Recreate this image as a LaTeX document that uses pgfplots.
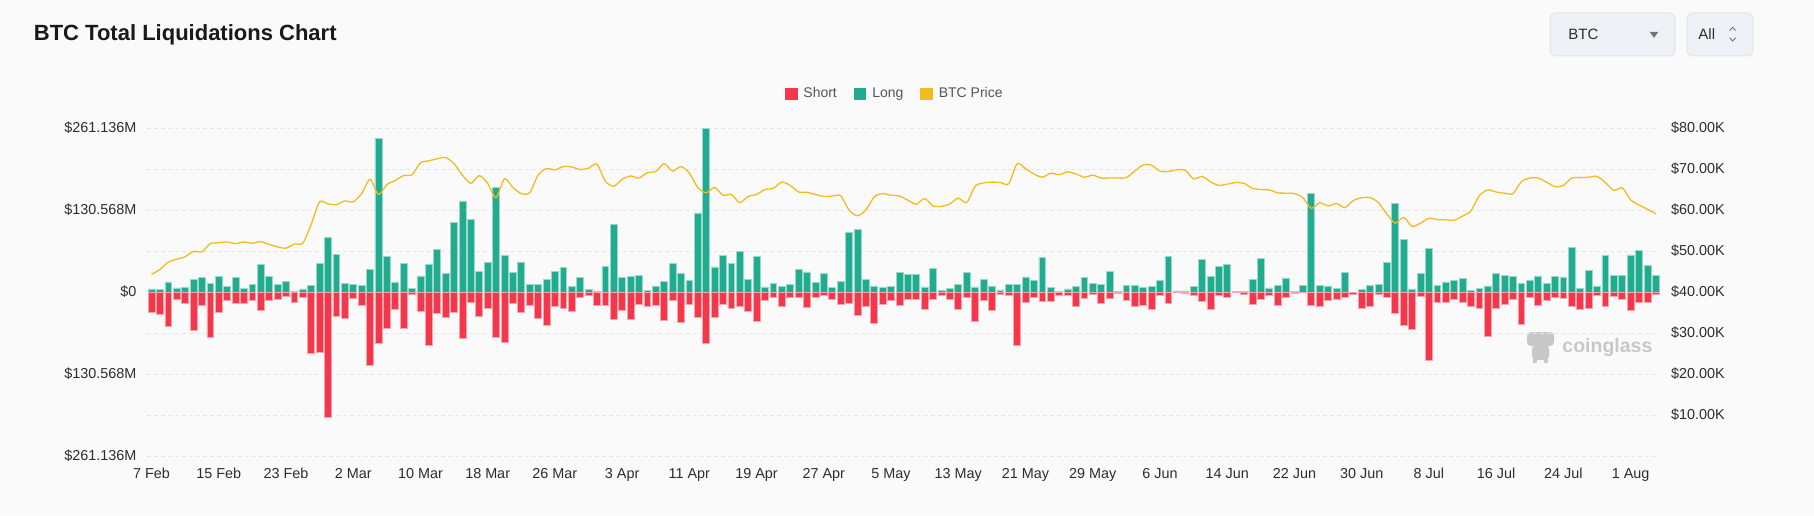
\documentclass[border=0pt]{standalone}
\usepackage{pgfplots}
\pgfplotsset{compat=1.18}
\usepackage{pgfplotstable}
\usepackage{fontspec}
\setmainfont{Liberation Sans}
\definecolor{shortc}{RGB}{245,55,76}
\definecolor{longc}{RGB}{33,171,143}
\definecolor{pricec}{RGB}{242,188,30}
\definecolor{gridc}{RGB}{230,230,230}
\definecolor{bgc}{RGB}{250,250,250}
\definecolor{textc}{RGB}{45,45,45}
\definecolor{legc}{RGB}{85,85,85}
\definecolor{wmc}{RGB}{200,200,200}
\definecolor{btnf}{RGB}{238,242,247}
\definecolor{btnd}{RGB}{224,229,236}

\pgfplotstableread{
d long short price
0 4.8 33 44.3
1 3.7 35 45.5
2 16 54 47.3
3 6.4 12 48.0
4 7 17.5 48.6
5 20.7 61 49.9
6 23 22 49.8
7 13 72 51.8
8 25 33 52.0
9 8.5 13 52.2
10 23 17.5 51.8
11 5.3 17.5 52.2
12 11.7 14 51.9
13 44 30 52.3
14 25 14 51.6
15 11.7 12 51.0
16 17 7 50.7
17 1.6 17 51.7
18 4.8 9 51.9
19 11 98 56.5
20 45 95.5 62.0
21 87.6 199 61.5
22 60.5 39 61.3
23 14 42 62.2
24 11.7 9.5 62.0
25 10 22 64.0
26 36.6 117 67.5
27 245 81 63.8
28 57 58 66.2
29 16 28 67.2
30 46 58 68.4
31 5.8 4 68.6
32 25.5 31 71.5
33 43.5 85 72.0
34 68 34.5 72.5
35 30 41 72.8
36 111 33 71.3
37 145 74 68.5
38 116 16.5 66.5
39 33 39 68.4
40 47 26 66.5
41 167 72 63.0
42 58 80 67.6
43 31 18.6 65.5
44 48 33 64.0
45 12.7 22 64.2
46 12.7 42 68.5
47 19.6 53 70.1
48 33 23 69.8
49 39 26.5 70.6
50 8.5 31 70.5
51 23 9 69.9
52 4.2 6 70.2
53 1.6 22 71.2
54 41 22 67.0
55 108 44 65.8
56 23 29 67.5
57 25 44 68.3
58 27 20 67.8
59 3 23 69.1
60 9.6 22 69.4
61 17.5 45 71.3
62 46 12.7 69.5
63 30 48 70.6
64 18 20 69.0
65 126 41 65.5
66 261 81 64.2
67 40 40 65.5
68 58 20 63.6
69 45 26.5 63.8
70 65 23 61.8
71 19.6 31 63.3
72 57 46 63.8
73 8 13 65.0
74 13 8.5 65.3
75 8.5 23 66.8
76 11.7 8 66.0
77 35.6 8 64.4
78 32 24 64.3
79 15 8 63.8
80 29 6 63.3
81 7 11.7 63.4
82 17.5 20 63.5
83 95 18.6 60.0
84 100 36.6 58.6
85 19.6 23 60.0
86 9.6 50 63.2
87 7 19.6 64.0
88 9 13 63.6
89 31 22 63.4
90 27.6 11.7 62.4
91 27.6 11.7 61.4
92 8 27.6 62.8
93 37.7 11.7 61.0
94 2.7 5.3 60.9
95 5.3 11 61.5
96 11.7 27.6 62.9
97 30.8 8 61.8
98 8 46 65.8
99 20.7 13.8 66.6
100 9 30 66.8
101 3.2 4.2 66.7
102 12.2 5.8 66.4
103 12.2 85 71.3
104 24 16 70.1
105 18 9 68.8
106 54.7 15.4 68.0
107 7.4 14.3 69.0
108 1 4.8 68.6
109 4.8 5.3 69.3
110 8.5 23 68.8
111 22.8 10 68.0
112 13.8 4.2 68.5
113 12.2 18 67.8
114 33.4 9.5 67.8
115 0.5 1.5 67.8
116 10 13.8 67.9
117 10 23 69.5
118 7 22 71.0
119 8.5 27.6 70.9
120 18 5.3 69.5
121 56 18.6 69.4
122 1.6 1 69.8
123 1.6 2.7 69.7
124 9 5.8 67.6
125 52.5 14.3 68.2
126 25 27 66.9
127 40.9 5.8 66.0
128 43.5 8.5 66.3
129 1 1 66.7
130 1 3.7 66.5
131 19.6 19.6 65.3
132 53.6 11.7 65.0
133 6.4 5.8 64.9
134 11 22 64.2
135 22.3 8.5 64.1
136 1 1.5 64.0
137 11 0.5 63.0
138 156.6 20.7 60.4
139 11 22.8 61.8
140 9.6 13.8 61.0
141 5.3 11 61.6
142 31.8 8 60.6
143 0 4.2 62.3
144 3.7 25.5 63.0
145 10.6 22.8 63.0
146 12.7 4.2 61.8
147 46.7 8.5 59.0
148 141.7 34 56.8
149 83.3 53 58.2
150 4.8 59 56.0
151 29 7.4 56.8
152 70 108.8 58.0
153 11 16.5 57.7
154 16 16.5 57.6
155 19 11.7 57.5
156 21.8 16 58.5
157 2.1 22.3 59.8
158 5.8 26.5 63.5
159 9.6 70.6 64.9
160 29 26 64.4
161 27 19.6 64.1
162 25 11 64.0
163 13 51 66.9
164 18.6 8 67.8
165 25.5 20.7 67.8
166 13.8 13 66.8
167 25 8.5 65.7
168 24 9.5 66.0
169 70.6 22.3 67.8
170 5.3 27.6 67.9
171 34 26.5 68.0
172 9.6 5.3 68.2
173 58.4 22.3 66.7
174 27 7.4 64.8
175 27 11 65.4
176 59 30 62.5
177 66 16.5 61.2
178 42 16.5 60.2
179 27 3.7 59.1
}\liq

\begin{document}
\begin{tikzpicture}
\path[use as bounding box] (0,0) rectangle (907pt,257.5pt);
\fill[bgc] (0,0) rectangle (907pt,257.5pt);
% title
\node[anchor=west,inner sep=0pt,text=black!90,font=\bfseries\fontsize{11}{13}\selectfont] at (16.75pt,240pt) {BTC Total Liquidations Chart};
% selector buttons
\draw[btnd,fill=btnf,rounded corners=3pt,line width=0.5pt] (775pt,229.5pt) rectangle (837.5pt,251pt);
\node[anchor=west,inner sep=0pt,text=textc,font=\fontsize{7.5}{9}\selectfont] at (784pt,240.25pt) {BTC};
\fill[black!55] (824.8pt,241.6pt) -- (829.2pt,241.6pt) -- (827pt,238.6pt) -- cycle;
\draw[btnd,fill=btnf,rounded corners=3pt,line width=0.5pt] (843.5pt,229.5pt) rectangle (876.5pt,251pt);
\node[anchor=west,inner sep=0pt,text=textc,font=\fontsize{7.5}{9}\selectfont] at (849pt,240.25pt) {All};
\draw[black!55,line width=0.45pt] (864.8pt,242.2pt) -- (866.3pt,243.8pt) -- (867.8pt,242.2pt);
\draw[black!55,line width=0.45pt] (864.8pt,238.6pt) -- (866.3pt,237pt) -- (867.8pt,238.6pt);
% watermark
\fill[wmc,rounded corners=2pt] (763.5pt,84.5pt) rectangle (777pt,91.5pt);
\fill[wmc,rounded corners=2pt] (766pt,77.5pt) rectangle (774.5pt,85pt);
\fill[wmc] (766.5pt,75.8pt) rectangle (768.5pt,78pt);
\fill[wmc] (772pt,75.8pt) rectangle (774pt,78pt);
\node[anchor=west,inner sep=0pt,text=wmc,font=\bfseries\fontsize{9.75}{11}\selectfont] at (781pt,83.9pt) {coinglass};

\begin{axis}[
  at={(73.65pt,29.5pt)}, anchor=south west,
  scale only axis, width=756.35pt, height=164pt,
  xmin=-0.5, xmax=179.5,
  ymin=-261.136, ymax=261.136,
  axis line style={draw=none},
  major tick length=0pt,
  ytick={-261.136,-195.852,-130.568,-65.284,0,65.284,130.568,195.852,261.136},
  yticklabels={\$261.136M,,\$130.568M,,\$0,,\$130.568M,,\$261.136M},
  ymajorgrids,
  grid style={gridc,dash pattern=on 2pt off 1.5pt,line width=0.5pt},
  xtick={0,8,...,176},
  xticklabels={7 Feb,15 Feb,23 Feb,2 Mar,10 Mar,18 Mar,26 Mar,3 Apr,11 Apr,19 Apr,27 Apr,5 May,13 May,21 May,29 May,6 Jun,14 Jun,22 Jun,30 Jun,8 Jul,16 Jul,24 Jul,1 Aug},
  tick label style={font=\fontsize{7.2}{8.5}\selectfont,text=textc},
  yticklabel style={anchor=east,inner sep=0pt,xshift=-5.2pt},
  xticklabel style={anchor=base,inner sep=0pt,yshift=-11pt},
  /pgf/number format/assume math mode=true,
  legend style={at={(0.4935,1.104)},anchor=center,draw=none,fill=none,
    legend columns=-1,font=\fontsize{7}{8}\selectfont,text=legc,
    inner sep=0pt,nodes={inner sep=0pt},
    /tikz/every odd column/.append style={column sep=3pt},
    /tikz/every even column/.append style={column sep=8.5pt}},
]
\addplot[ybar,bar width=0.82,bar shift=0pt,fill=longc,draw=longc!45!white,line width=0.35pt,forget plot]
  table[x=d,y=long]{\liq};
\addplot[ybar,bar width=0.82,bar shift=0pt,fill=shortc,draw=shortc!45!white,line width=0.35pt,forget plot]
  table[x=d,y expr=-\thisrow{short}]{\liq};
\addlegendimage{legend image code/.code={\fill[shortc] (0pt,-2.9pt) rectangle (5.8pt,2.9pt);}}
\addlegendentry{Short}
\addlegendimage{legend image code/.code={\fill[longc] (0pt,-2.9pt) rectangle (5.8pt,2.9pt);}}
\addlegendentry{Long}
\addlegendimage{legend image code/.code={\fill[pricec] (0pt,-2.9pt) rectangle (5.8pt,2.9pt);}}
\addlegendentry{BTC Price}
\end{axis}

\begin{axis}[
  at={(73.65pt,29.5pt)}, anchor=south west,
  scale only axis, width=756.35pt, height=164pt,
  xmin=-0.5, xmax=179.5,
  ymin=0, ymax=80,
  axis x line=none,
  axis y line*=right,
  axis line style={draw=none},
  major tick length=0pt,
  ytick={10,20,...,80},
  yticklabels={\$10.00K,\$20.00K,\$30.00K,\$40.00K,\$50.00K,\$60.00K,\$70.00K,\$80.00K},
  tick label style={font=\fontsize{7.2}{8.5}\selectfont,text=textc},
  yticklabel style={anchor=west,inner sep=0pt,xshift=5.35pt},
  /pgf/number format/assume math mode=true,
]
\addplot[pricec,line width=0.65pt,smooth,tension=0.45,no markers] table[x=d,y=price]{\liq};
\end{axis}
\end{tikzpicture}
\end{document}
